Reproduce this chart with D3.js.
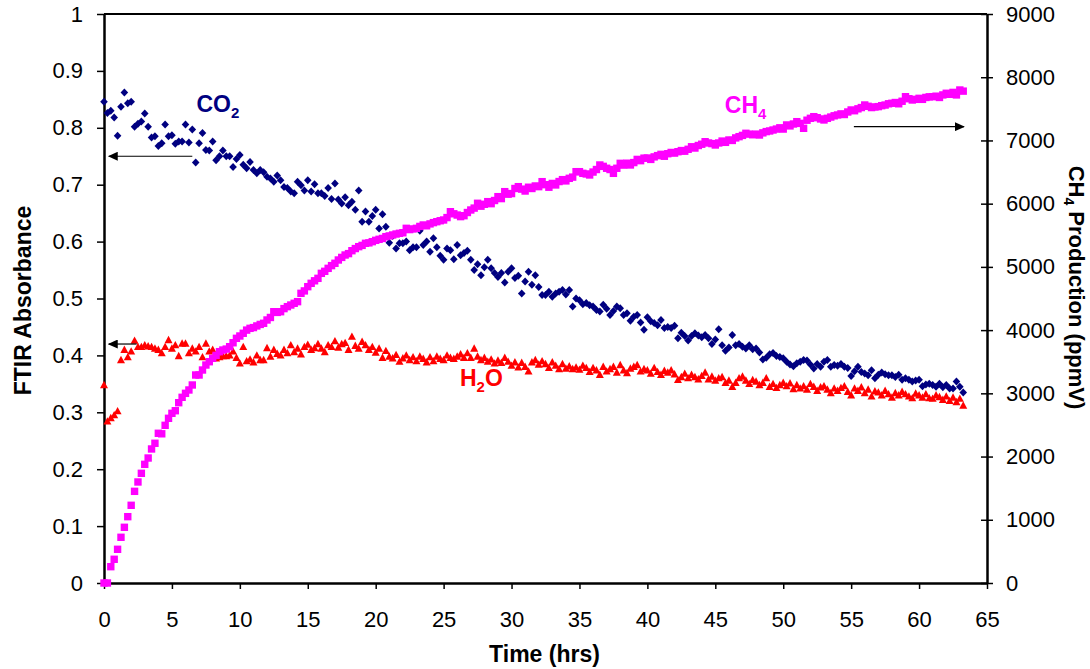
<!DOCTYPE html>
<html>
<head>
<meta charset="utf-8">
<script src="https://cdn.jsdelivr.net/npm/d3@7"></script>
<style>
body { margin: 0; background: #fff; }
text { font-family: "Liberation Sans", Arial, sans-serif; }
</style>
</head>
<body>
<div id="my_dataviz"></div>
<script>
// sampling times (hrs), one FTIR scan every quarter hour
var timeHrs = [
0,0.25,0.5,0.75,1,1.25,1.5,1.75,2,2.25,2.5,2.75,3,3.25,3.5,3.75,4,4.25,4.5,4.75,
5,5.25,5.5,5.75,6,6.25,6.5,6.75,7,7.25,7.5,7.75,8,8.25,8.5,8.75,9,9.25,9.5,9.75,
10,10.25,10.5,10.75,11,11.25,11.5,11.75,12,12.25,12.5,12.75,13,13.25,13.5,13.75,14,14.25,14.5,14.75,
15,15.25,15.5,15.75,16,16.25,16.5,16.75,17,17.25,17.5,17.75,18,18.25,18.5,18.75,19,19.25,19.5,19.75,
20,20.25,20.5,20.75,21,21.25,21.5,21.75,22,22.25,22.5,22.75,23,23.25,23.5,23.75,24,24.25,24.5,24.75,
25,25.25,25.5,25.75,26,26.25,26.5,26.75,27,27.25,27.5,27.75,28,28.25,28.5,28.75,29,29.25,29.5,29.75,
30,30.25,30.5,30.75,31,31.25,31.5,31.75,32,32.25,32.5,32.75,33,33.25,33.5,33.75,34,34.25,34.5,34.75,
35,35.25,35.5,35.75,36,36.25,36.5,36.75,37,37.25,37.5,37.75,38,38.25,38.5,38.75,39,39.25,39.5,39.75,
40,40.25,40.5,40.75,41,41.25,41.5,41.75,42,42.25,42.5,42.75,43,43.25,43.5,43.75,44,44.25,44.5,44.75,
45,45.25,45.5,45.75,46,46.25,46.5,46.75,47,47.25,47.5,47.75,48,48.25,48.5,48.75,49,49.25,49.5,49.75,
50,50.25,50.5,50.75,51,51.25,51.5,51.75,52,52.25,52.5,52.75,53,53.25,53.5,53.75,54,54.25,54.5,54.75,
55,55.25,55.5,55.75,56,56.25,56.5,56.75,57,57.25,57.5,57.75,58,58.25,58.5,58.75,59,59.25,59.5,59.75,
60,60.25,60.5,60.75,61,61.25,61.5,61.75,62,62.25,62.5,62.75,63,63.25];

// FTIR absorbance, left axis
var co2Abs = [
.846,.826,.830,.818,.786,.837,.862,.843,.846,.802,.807,.811,.825,.802,.783,.785,.768,.773,.806,.785,
.787,.772,.776,.776,.806,.774,.797,.739,.773,.791,.761,.760,.776,.743,.750,.760,.750,.750,.731,.745,
.752,.735,.729,.740,.726,.720,.726,.722,.714,.711,.705,.716,.708,.696,.694,.688,.685,.705,.699,.690,
.708,.688,.701,.685,.685,.680,.694,.675,.702,.674,.667,.678,.664,.670,.656,.690,.635,.653,.635,.645,
.656,.623,.648,.626,.598,.610,.588,.597,.597,.600,.585,.590,.590,.619,.594,.600,.582,.606,.590,.575,
.568,.588,.585,.569,.594,.576,.580,.584,.568,.550,.560,.541,.555,.568,.553,.545,.538,.545,.528,.547,
.553,.536,.540,.509,.530,.547,.524,.541,.520,.506,.506,.512,.503,.509,.512,.515,.507,.515,.486,.500,
.497,.490,.492,.488,.486,.480,.477,.489,.482,.471,.478,.486,.483,.471,.474,.461,.468,.471,.458,.445,
.467,.460,.457,.453,.462,.448,.450,.448,.452,.430,.440,.434,.426,.434,.439,.435,.432,.436,.430,.420,
.428,.446,.418,.408,.414,.436,.418,.420,.415,.412,.418,.411,.412,.405,.393,.396,.402,.404,.399,.397,
.395,.389,.384,.381,.386,.389,.392,.391,.384,.377,.385,.380,.389,.392,.380,.383,.382,.385,.380,.378,
.364,.372,.380,.371,.368,.365,.374,.360,.366,.370,.367,.365,.365,.362,.366,.357,.360,.357,.354,.356,
.357,.346,.349,.350,.348,.345,.350,.344,.348,.342,.342,.354,.345,.335];

var h2oAbs = [
.348,.284,.290,.295,.302,.392,.410,.397,.407,.426,.415,.415,.418,.416,.415,.412,.410,.404,.415,.427,
.412,.418,.399,.421,.421,.404,.412,.407,.415,.397,.421,.407,.410,.395,.397,.399,.399,.400,.407,.396,
.386,.415,.390,.393,.388,.400,.392,.392,.413,.398,.410,.403,.400,.410,.404,.418,.406,.412,.402,.415,
.419,.410,.413,.420,.412,.406,.418,.415,.425,.414,.420,.422,.410,.433,.417,.412,.424,.418,.410,.415,
.405,.412,.396,.408,.398,.395,.401,.389,.395,.400,.392,.397,.390,.398,.394,.388,.397,.390,.398,.394,
.392,.400,.396,.394,.398,.402,.396,.404,.396,.412,.398,.392,.396,.389,.393,.386,.391,.387,.396,.389,
.382,.388,.379,.387,.380,.372,.388,.392,.384,.390,.385,.378,.388,.382,.376,.385,.377,.381,.376,.379,
.375,.382,.378,.371,.378,.374,.366,.380,.372,.376,.380,.370,.383,.374,.369,.377,.380,.383,.372,.376,
.374,.368,.378,.371,.366,.373,.370,.374,.367,.357,.362,.368,.360,.366,.362,.358,.364,.370,.358,.363,
.356,.360,.362,.352,.356,.345,.352,.360,.363,.356,.350,.357,.354,.348,.352,.360,.345,.350,.343,.348,
.352,.346,.351,.341,.348,.342,.346,.340,.350,.345,.338,.344,.346,.340,.334,.342,.338,.343,.346,.336,
.330,.342,.338,.344,.334,.340,.328,.337,.335,.330,.338,.332,.326,.334,.330,.336,.332,.328,.325,.333,
.330,.326,.332,.325,.324,.330,.327,.322,.328,.320,.326,.318,.324,.312];

// CH4 production (ppmV), right axis
var ch4Ppmv = [
0,0,258,375,533,723,881,1049,1229,1450,1598,1735,1877,1977,2120,2210,2368,2360,2494,2605,
2684,2725,2852,2937,3000,3053,3132,3290,3290,3369,3448,3500,3554,3600,3659,3685,3700,3738,3800,3870,
3907,3950,4000,4028,4040,4066,4090,4108,4160,4200,4291,4280,4291,4340,4371,4397,4424,4450,4582,4620,
4687,4740,4780,4819,4898,4930,4977,5020,5057,5109,5150,5188,5210,5256,5290,5320,5340,5373,5380,5399,
5420,5436,5450,5478,5490,5505,5520,5531,5540,5610,5590,5600,5610,5640,5663,5650,5680,5700,5715,5730,
5742,5780,5873,5840,5820,5795,5810,5860,5900,5930,6006,5960,5990,6032,6000,6050,6111,6080,6190,6150,
6160,6240,6269,6230,6200,6260,6240,6280,6269,6348,6300,6260,6320,6296,6350,6380,6360,6401,6420,6506,
6506,6480,6470,6454,6500,6540,6612,6590,6560,6540,6480,6560,6638,6610,6640,6612,6650,6700,6680,6720,
6722,6700,6740,6760,6780,6750,6790,6810,6800,6822,6840,6830,6860,6900,6880,6920,6940,6980,6960,6950,
6928,6960,6990,6970,7007,7000,7040,7060,7080,7113,7100,7090,7100,7086,7120,7140,7150,7165,7180,7200,
7180,7245,7230,7260,7297,7270,7192,7320,7350,7376,7360,7340,7324,7350,7370,7390,7403,7420,7410,7450,
7482,7470,7500,7520,7561,7540,7520,7530,7535,7550,7560,7580,7588,7600,7580,7620,7692,7660,7640,7650,
7666,7650,7680,7690,7692,7700,7680,7720,7746,7730,7760,7720,7798,7780];

var xTicks = [0,5,10,15,20,25,30,35,40,45,50,55,60,65];
var leftTicks = [0,0.1,0.2,0.3,0.4,0.5,0.6,0.7,0.8,0.9,1];
var rightTicks = [0,1000,2000,3000,4000,5000,6000,7000,8000,9000];

DrawChart();

function DrawChart()
{
    var margin = {top:14, left:104, right:103, bottom:86};
    var width = 1090 - margin.left - margin.right;
    var height = 669 - margin.top - margin.bottom;

    var root = d3.select("#my_dataviz")
        .append("svg")
        .attr("width", 1090)
        .attr("height", 669)
        .style("background-color", "#fff");

    // arrow head for the axis pointers
    root.append("defs").append("marker")
        .attr("id", "head")
        .attr("markerUnits", "userSpaceOnUse")
        .attr("markerWidth", 10)
        .attr("markerHeight", 9)
        .attr("refX", 9)
        .attr("refY", 4.5)
        .attr("orient", "auto")
        .append("path")
        .attr("d", "M0,0L10,4.5L0,9Z")
        .style("fill", "#000");

    var svg = root.append("g")
        .attr("transform", "translate(" + margin.left + "," + margin.top + ")");

    var x = d3.scaleLinear().domain([0, 65]).range([0, width]);
    var yLeft = d3.scaleLinear().domain([0, 1]).range([height, 0]);
    var yRight = d3.scaleLinear().domain([0, 9000]).range([height, 0]);

    // top frame line
    svg.append("line")
        .attr("x1", 0).attr("x2", width)
        .attr("y1", 0).attr("y2", 0)
        .style("stroke", "#000")
        .style("stroke-width", 2);

    // X axis
    var gx = svg.append("g")
        .attr("transform", "translate(0," + height + ")")
        .call(d3.axisBottom(x).tickValues(xTicks).tickSize(6).tickSizeOuter(0).tickPadding(22));

    // left Y axis
    var gl = svg.append("g")
        .call(d3.axisLeft(yLeft).tickValues(leftTicks).tickFormat(d3.format("")).tickSize(7).tickSizeOuter(0).tickPadding(14));

    // right Y axis, ticks cross the line
    var gr = svg.append("g")
        .attr("transform", "translate(" + width + ",0)")
        .call(d3.axisRight(yRight).tickValues(rightTicks).tickFormat(d3.format("")).tickSize(6).tickSizeOuter(0).tickPadding(13));
    gr.selectAll(".tick line").attr("x1", -6);

    [gx, gl, gr].forEach(function(g) {
        g.select(".domain").style("stroke-width", 2.5);
        g.selectAll(".tick line").style("stroke-width", 1.5);
        g.selectAll(".tick text")
            .style("font-family", '"Liberation Sans", Arial, sans-serif')
            .style("font-size", "22px")
            .style("fill", "#000");
    });

    var pts = timeHrs.map(function(t, i) {
        return {t: t, co2: co2Abs[i], h2o: h2oAbs[i], ch4: ch4Ppmv[i]};
    });

    // CO2 diamonds
    svg.append("g").selectAll("path")
        .data(pts)
        .enter()
        .append("path")
        .attr("transform", function(d) { return "translate(" + x(d.t) + "," + yLeft(d.co2) + ")"; })
        .attr("d", "M0,-4L3.8,0L0,4L-3.8,0Z")
        .style("fill", "#000080");

    // H2O triangles
    svg.append("g").selectAll("path")
        .data(pts)
        .enter()
        .append("path")
        .attr("transform", function(d) { return "translate(" + x(d.t) + "," + yLeft(d.h2o) + ")"; })
        .attr("d", "M0,-4.2L4,3.2L-4,3.2Z")
        .style("fill", "#ff0000");

    // CH4 squares
    svg.append("g").selectAll("rect")
        .data(pts)
        .enter()
        .append("rect")
        .attr("x", function(d) { return x(d.t) - 3.7; })
        .attr("y", function(d) { return yRight(d.ch4) - 3.7; })
        .attr("width", 7.4)
        .attr("height", 7.4)
        .style("fill", "#ff00ff");

    // axis pointers
    var arrows = [
        {x1: x(6.5), x2: x(0.35), y: yLeft(0.75)},
        {x1: x(2.4), x2: x(0.35), y: yLeft(0.42)},
        {x1: x(55.2), x2: x(63.3), y: yLeft(0.802)}
    ];
    svg.append("g").selectAll("line")
        .data(arrows)
        .enter()
        .append("line")
        .attr("x1", function(d) { return d.x1; })
        .attr("x2", function(d) { return d.x2; })
        .attr("y1", function(d) { return d.y; })
        .attr("y2", function(d) { return d.y; })
        .style("stroke", "#000")
        .style("stroke-width", 1.2)
        .attr("marker-end", "url(#head)");

    // series labels
    SeriesLabel(svg, x(6.8), 98, "CO", "2", "", "#000080");
    SeriesLabel(svg, x(45.7), 99, "CH", "4", "", "#ff00ff");
    SeriesLabel(svg, x(26.2), 372, "H", "2", "O", "#ff0000");

    // axis titles
    svg.append("text")
        .attr("transform", "translate(" + (31 - margin.left) + "," + (height / 2 + 2) + ") rotate(-90)")
        .attr("text-anchor", "middle")
        .style("font-size", "23px")
        .style("font-weight", "bold")
        .text("FTIR Absorbance");

    svg.append("text")
        .attr("x", width / 2 - 1)
        .attr("y", height + 79)
        .attr("text-anchor", "middle")
        .style("font-size", "23px")
        .style("font-weight", "bold")
        .text("Time (hrs)");

    var rt = svg.append("text")
        .attr("transform", "translate(" + (1069 - margin.left) + "," + (height / 2 - 11) + ") rotate(90)")
        .attr("text-anchor", "middle")
        .style("font-size", "22px")
        .style("font-weight", "bold");
    rt.append("tspan").text("CH");
    rt.append("tspan").attr("dy", 5).style("font-size", "14px").text("4");
    rt.append("tspan").attr("dy", -5).text(" Production (ppmV)");
}

function SeriesLabel(svg, px, py, main, sub, tail, color)
{
    var t = svg.append("text")
        .attr("x", px)
        .attr("y", py)
        .style("font-size", "23px")
        .style("font-weight", "bold")
        .style("fill", color);
    t.append("tspan").text(main);
    t.append("tspan").attr("dy", 6).style("font-size", "15px").text(sub);
    if (tail) t.append("tspan").attr("dy", -6).text(tail);
}
</script>
</body>
</html>
